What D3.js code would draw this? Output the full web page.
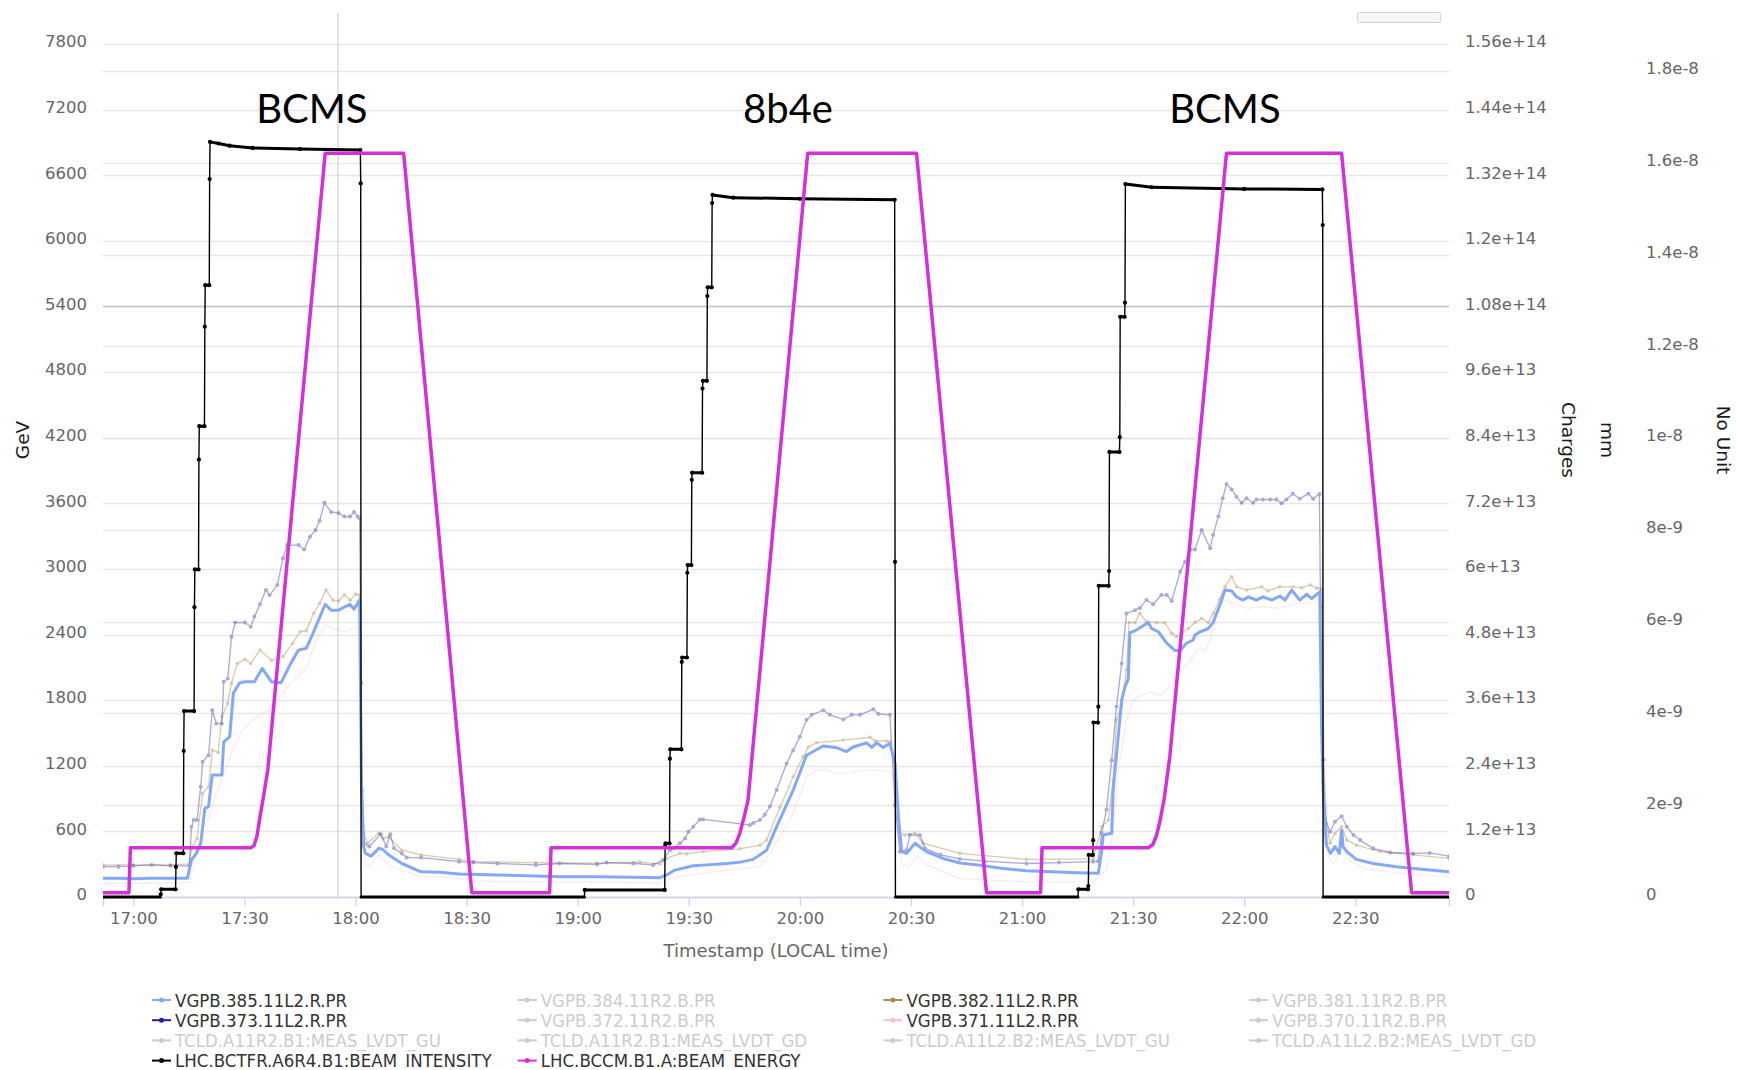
<!DOCTYPE html>
<html>
<head>
<meta charset="utf-8">
<script src="https://cdn.jsdelivr.net/npm/d3@7"></script>
<style>
  html, body { margin: 0; padding: 0; background: #ffffff; }
  svg { display: block; }
</style>
</head>
<body>
<svg id="chart" width="1737" height="1070"></svg>
<script>
// ---------------------------------------------------------------------------
// Data. Times are minutes counted from 17:00 local time.
// ---------------------------------------------------------------------------
const BASE_TIME = new Date(2018, 9, 23, 17, 0, 0);
const INTENSITY_UNIT = 1e13;   // intensity values are stored in 1e13 charges
const PRESSURE_UNIT = 1e-9;    // gauge values are stored in 1e-9

const gevTickLabels = ["0", "600", "1200", "1800", "2400", "3000", "3600", "4200",
  "4800", "5400", "6000", "6600", "7200", "7800"];
const chargesTickLabels = ["0", "1.2e+13", "2.4e+13", "3.6e+13", "4.8e+13", "6e+13",
  "7.2e+13", "8.4e+13", "9.6e+13", "1.08e+14", "1.2e+14", "1.32e+14", "1.44e+14", "1.56e+14"];
const noUnitTickLabels = ["0", "2e-9", "4e-9", "6e-9", "8e-9", "1e-8", "1.2e-8",
  "1.4e-8", "1.6e-8", "1.8e-8"];
const timeTickLabels = ["17:00", "17:30", "18:00", "18:30", "19:00", "19:30", "20:00",
  "20:30", "21:00", "21:30", "22:00", "22:30"];
const timeWindow = [-8.2, 355.3];

// LHC.BCCM.B1.A:BEAM_ENERGY [GeV]
const energyGeV = [
  [-8.2, 40], [-1.2, 40], [-0.8, 450], [31.7, 450], [32.6, 470], [33.4, 560], [34.2, 734],
  [35.2, 930], [36.3, 1161], [51.8, 6800], [73.0, 6800], [91.4, 40],
  [112.4, 40], [112.8, 450], [161.6, 450], [162.7, 490], [163.8, 585], [165.0, 740],
  [166.0, 887], [182.1, 6800], [211.5, 6800], [230.4, 40],
  [245.0, 40], [245.4, 450], [274.1, 450], [275.3, 480], [276.3, 560], [277.3, 704],
  [278.4, 900], [279.9, 1283], [295.2, 6800], [326.3, 6800], [345.2, 40], [355.3, 40]
];

// LHC.BCTFR.A6R4.B1:BEAM_INTENSITY [1e13 charges]
const intensityE13 = [
  [-8.2, 0], [7.3, 0], [7.4, 0.05], [7.5, 0.14], [11.4, 0.14], [11.5, 0.55], [11.6, 0.80],
  [13.5, 0.80], [13.6, 2.67], [13.7, 3.40], [16.4, 3.40], [16.5, 5.30], [16.6, 5.99],
  [17.6, 5.99], [17.7, 8.0], [17.8, 8.61], [19.2, 8.61], [19.3, 10.43], [19.4, 11.19],
  [20.5, 11.19], [20.6, 13.13], [20.7, 13.81], [23.0, 13.78], [26.0, 13.74], [32.2, 13.70],
  [45.0, 13.68], [61.3, 13.66], [61.4, 13.05], [61.5, 0],
  [121.8, 0], [121.9, 0.13], [143.5, 0.13], [143.6, 0.93], [143.7, 0.98], [144.8, 0.98],
  [144.9, 2.53], [145.0, 2.70], [148.0, 2.70], [148.1, 4.30], [148.2, 4.38], [149.5, 4.38],
  [149.6, 5.93], [149.7, 6.07], [150.7, 6.07], [150.8, 7.63], [150.9, 7.76], [153.6, 7.76],
  [153.7, 9.30], [153.8, 9.44], [154.9, 9.44], [155.0, 10.99], [155.1, 11.15], [156.2, 11.15],
  [156.3, 12.69], [156.4, 12.84], [162.0, 12.79], [180.0, 12.77], [205.6, 12.75],
  [205.7, 6.13], [205.8, 0],
  [255.1, 0], [255.2, 0.14], [257.8, 0.14], [257.9, 0.20], [258.0, 0.77], [259.1, 0.77],
  [259.2, 1.04], [259.3, 3.19], [260.5, 3.19], [260.6, 3.48], [260.7, 5.69], [263.4, 5.69],
  [263.5, 5.96], [263.6, 8.14], [266.3, 8.14], [266.4, 8.41], [266.5, 10.61], [267.7, 10.61],
  [267.8, 10.87], [267.9, 13.04], [275.0, 12.98], [300.0, 12.95], [321.1, 12.94],
  [321.2, 12.29], [321.3, 0], [355.3, 0]
];

// VGPB.385.11L2.R.PR [1e-9]
const p385 = [
  [-8.2, 0.41], [-4, 0.41], [0, 0.40], [5, 0.41], [10, 0.41], [14.6, 0.41], [15.7, 0.81],
  [17.0, 0.95], [18.2, 1.17], [19.3, 1.93], [20.3, 1.97], [21.3, 2.66], [23.9, 2.66],
  [24.4, 3.38], [26.0, 3.49], [27.0, 4.44], [28.6, 4.66], [30.1, 4.69], [32.7, 4.69],
  [34.8, 4.98], [37.3, 4.69], [39.9, 4.67], [42.5, 5.09], [44.6, 5.38], [46.7, 5.42],
  [48.7, 5.78], [51.8, 6.38], [53.4, 6.25], [55.4, 6.25], [58.5, 6.38], [59.6, 6.27],
  [61.1, 6.47], [61.6, 2.48], [62.2, 1.10], [62.7, 0.95], [64.2, 0.89], [66.3, 1.06],
  [67.3, 1.04], [68.9, 0.92], [72.5, 0.73], [77.7, 0.55], [82.8, 0.54], [88.0, 0.50],
  [98.3, 0.48], [108.7, 0.46], [115.1, 0.44], [125.2, 0.44], [135.0, 0.43], [142.2, 0.42],
  [144.5, 0.50], [146.0, 0.58], [151.2, 0.68], [155.0, 0.70], [160.2, 0.73], [164.0, 0.76],
  [167.4, 0.82], [171.0, 1.02], [173.7, 1.53], [178.2, 2.33], [181.8, 3.09], [186.3, 3.29],
  [190.0, 3.25], [192.6, 3.17], [194.4, 3.27], [198.0, 3.36], [199.4, 3.26], [200.7, 3.36],
  [202.5, 3.26], [204.3, 3.35], [205.7, 2.91], [206.6, 1.75], [207.5, 0.99], [208.8, 0.95],
  [211.1, 1.17], [212.9, 1.06], [214.2, 0.99], [218.7, 0.84], [223.2, 0.74], [227.7, 0.70],
  [235.0, 0.62], [241.2, 0.57], [248.0, 0.55], [254.7, 0.53], [260.6, 0.52], [261.5, 1.00],
  [261.9, 1.35], [264.2, 1.39], [264.6, 2.33], [266.9, 4.29], [267.8, 4.58], [268.7, 4.76],
  [269.1, 5.76], [270.5, 5.80], [272.3, 5.89], [274.1, 5.98], [275.0, 5.85], [276.8, 5.78],
  [279.1, 5.53], [281.3, 5.37], [282.7, 5.37], [284.4, 5.53], [286.2, 5.60], [286.7, 5.71],
  [288.1, 5.78], [290.3, 5.85], [291.6, 5.98], [293.4, 6.36], [294.8, 6.69], [296.6, 6.67],
  [297.9, 6.54], [299.7, 6.47], [301.1, 6.54], [303.3, 6.47], [305.1, 6.54], [307.4, 6.47],
  [309.6, 6.56], [311.0, 6.47], [312.8, 6.69], [315.0, 6.47], [316.9, 6.60], [318.2, 6.50],
  [320.4, 6.65], [320.9, 3.64], [321.3, 2.33], [322.2, 1.13], [323.3, 0.95], [324.5, 1.10],
  [325.7, 0.95], [326.3, 1.46], [326.7, 1.10], [327.7, 0.99], [330.3, 0.82], [334.8, 0.73],
  [341.1, 0.66], [345.6, 0.62], [350.1, 0.59], [355.3, 0.55]
];

// VGPB.373.11L2.R.PR [1e-9]
const p373 = [
  [-8.2, 0.66], [-4, 0.66], [0, 0.68], [5, 0.70], [10, 0.68], [15.1, 0.68], [15.7, 1.53],
  [16.3, 1.68], [17.2, 1.68], [18.2, 2.40], [18.7, 2.95], [20.3, 3.09], [21.3, 4.07],
  [22.4, 3.78], [23.9, 3.78], [24.4, 4.69], [25.5, 4.76], [26.5, 5.67], [27.5, 5.98],
  [30.1, 5.98], [31.7, 5.89], [32.7, 6.11], [34.2, 6.38], [35.8, 6.69], [36.8, 6.58],
  [38.9, 6.80], [40.4, 7.38], [41.5, 7.67], [44.6, 7.67], [46.1, 7.57], [47.7, 7.85],
  [49.2, 8.00], [50.3, 8.20], [51.6, 8.59], [53.4, 8.39], [55.4, 8.37], [57.0, 8.29],
  [58.5, 8.29], [59.6, 8.39], [60.6, 8.29], [61.1, 8.25], [61.5, 4.66], [61.7, 2.33],
  [62.2, 1.17], [63.7, 1.10], [66.8, 1.37], [68.3, 1.10], [69.4, 1.37], [70.4, 1.06],
  [72.5, 0.95], [73.8, 0.86], [77.7, 0.86], [88.0, 0.77], [91.8, 0.75], [98.3, 0.73],
  [108.7, 0.70], [115.1, 0.73], [125.2, 0.71], [127.8, 0.75], [135.0, 0.73], [140.4, 0.70],
  [143.1, 0.81], [144.9, 1.02], [145.8, 1.06], [147.6, 1.17], [149.0, 1.28], [149.9, 1.42],
  [151.2, 1.53], [153.0, 1.69], [153.9, 1.69], [166.5, 1.57], [167.4, 1.61], [169.2, 1.68],
  [170.5, 1.79], [171.9, 1.97], [173.7, 2.33], [176.4, 2.91], [178.2, 3.20], [180.0, 3.49],
  [181.8, 3.86], [183.2, 3.97], [186.3, 4.07], [188.1, 3.97], [191.7, 3.87], [194.0, 3.97],
  [196.2, 3.97], [199.8, 4.09], [201.2, 3.99], [204.3, 3.97], [205.7, 2.00], [207.0, 0.99],
  [208.8, 1.02], [209.7, 1.35], [212.4, 1.35], [213.8, 1.06], [218.0, 0.92], [223.2, 0.83],
  [230.0, 0.78], [241.2, 0.73], [250.0, 0.75], [259.2, 0.77], [260.5, 0.78], [261.5, 1.39],
  [262.8, 1.90], [264.2, 2.98], [265.5, 4.15], [266.9, 5.09], [268.2, 6.18], [270.5, 6.25],
  [271.8, 6.30], [273.6, 6.47], [275.4, 6.38], [277.6, 6.58], [279.1, 6.58], [280.4, 6.45],
  [282.7, 7.09], [284.0, 7.30], [285.4, 7.57], [286.7, 7.57], [288.5, 8.00], [290.8, 7.60],
  [291.6, 7.89], [293.0, 8.29], [294.2, 8.69], [295.2, 9.00], [296.6, 8.88], [297.9, 8.72],
  [299.3, 8.59], [300.6, 8.69], [302.4, 8.59], [303.3, 8.66], [305.0, 8.66], [307.0, 8.66],
  [308.7, 8.66], [310.1, 8.58], [311.4, 8.66], [313.1, 8.79], [315.0, 8.68], [317.3, 8.79],
  [318.6, 8.68], [320.3, 8.78], [320.6, 6.32], [321.2, 2.98], [321.8, 1.71], [323.2, 1.42],
  [324.5, 1.64], [326.3, 1.76], [327.7, 1.53], [329.5, 1.35], [331.3, 1.24], [334.8, 1.06],
  [339.4, 0.97], [345.6, 0.95], [350.1, 0.96], [355.3, 0.89]
];

// VGPB.382.11L2.R.PR [1e-9]
const p382 = [
  [-8.2, 0.70], [0, 0.70], [10, 0.70], [15.1, 0.72], [15.7, 1.06], [17.2, 1.28], [18.7, 2.26],
  [20.3, 2.40], [21.3, 3.20], [22.9, 3.15], [23.9, 3.93], [25.5, 4.22], [26.5, 4.66],
  [28.1, 5.09], [30.1, 5.18], [31.7, 5.09], [34.2, 5.38], [37.3, 5.16], [40.4, 5.24],
  [43.0, 5.53], [45.1, 5.78], [46.7, 5.80], [48.7, 6.18], [50.3, 6.40], [52.0, 6.69],
  [53.9, 6.47], [55.4, 6.45], [57.0, 6.58], [58.5, 6.47], [60.1, 6.60], [61.1, 6.58],
  [61.6, 3.00], [62.2, 1.40], [63.2, 1.17], [66.3, 1.39], [67.5, 1.28], [68.9, 1.31],
  [72.5, 1.02], [77.7, 0.92], [88.0, 0.82], [91.8, 0.77], [108.7, 0.75], [125.2, 0.74],
  [136.8, 0.76], [142.2, 0.72], [144.0, 0.84], [147.6, 0.95], [149.4, 0.94], [153.9, 0.99],
  [163.8, 1.05], [169.2, 1.13], [171.0, 1.24], [174.6, 1.95], [178.2, 2.62], [180.9, 3.06],
  [182.3, 3.27], [184.5, 3.36], [191.7, 3.42], [198.9, 3.48], [200.3, 3.40], [203.4, 3.40],
  [204.3, 3.38], [205.7, 2.90], [207.0, 1.39], [208.3, 1.35], [211.1, 1.39], [213.3, 1.17],
  [223.2, 0.95], [241.2, 0.82], [259.2, 0.83], [261.5, 1.53], [263.3, 1.68], [264.6, 2.55],
  [265.5, 3.86], [266.9, 4.15], [268.2, 4.95], [268.9, 5.98], [270.5, 5.98], [271.8, 6.18],
  [273.6, 6.00], [276.3, 5.98], [278.5, 5.98], [280.4, 5.75], [281.7, 5.67], [283.1, 5.75],
  [284.9, 5.85], [286.7, 5.98], [288.5, 6.07], [290.3, 5.98], [291.6, 6.18], [293.4, 6.49],
  [294.8, 6.76], [296.6, 6.98], [297.9, 6.76], [300.6, 6.69], [304.7, 6.76], [306.4, 6.67],
  [309.6, 6.76], [313.2, 6.76], [315.5, 6.74], [317.8, 6.80], [319.6, 6.73], [320.9, 6.71],
  [321.5, 3.00], [322.2, 1.61], [323.2, 1.17], [324.5, 1.39], [326.3, 1.53], [327.7, 1.24],
  [330.3, 1.13], [336.6, 0.99], [345.6, 0.92], [355.3, 0.84]
];

// VGPB.371.11L2.R.PR [1e-9]
const p371 = [
  [-8.2, 0.30], [10, 0.30], [15.1, 0.32], [15.7, 0.52], [18.7, 1.50], [20.3, 1.70],
  [22.1, 2.20], [24.0, 2.60], [26.0, 3.02], [29.1, 3.60], [32.2, 3.86], [36.3, 4.07],
  [38.4, 4.22], [42.5, 4.66], [46.7, 4.98], [48.7, 5.45], [51.8, 5.96], [54.0, 5.85],
  [57.0, 5.78], [61.1, 5.89], [61.6, 2.00], [62.2, 0.88], [63.2, 0.63], [66.3, 0.92],
  [69.4, 0.66], [77.7, 0.44], [82.8, 0.44], [98.3, 0.33], [115.1, 0.33], [127.8, 0.33],
  [142.2, 0.30], [144.9, 0.41], [160.2, 0.59], [169.2, 0.66], [171.9, 0.95], [178.2, 1.82],
  [181.8, 2.62], [184.5, 2.77], [187.2, 2.77], [189.9, 2.69], [196.2, 2.75], [199.8, 2.77],
  [204.3, 2.73], [205.7, 2.48], [207.5, 0.73], [209.3, 0.63], [211.7, 0.90], [214.2, 0.70],
  [223.2, 0.40], [241.2, 0.33], [259.2, 0.33], [262.8, 0.59], [264.6, 1.39], [266.0, 2.77],
  [268.2, 3.85], [270.0, 4.29], [271.4, 4.36], [274.5, 4.47], [277.2, 4.40], [279.9, 4.58],
  [282.7, 4.87], [285.4, 5.16], [288.1, 5.45], [289.4, 5.35], [290.8, 5.60], [292.6, 6.18],
  [294.4, 6.47], [297.1, 6.40], [300.6, 6.29], [305.1, 6.33], [309.6, 6.29], [314.1, 6.40],
  [318.6, 6.42], [320.4, 6.54], [321.3, 1.97], [322.7, 0.88], [324.1, 0.73], [326.7, 1.17],
  [328.5, 0.79], [332.2, 0.63], [341.1, 0.52], [355.3, 0.44]
];

const fillNames = ["BCMS", "8b4e", "BCMS"];
const fillNameTimes = [48.2, 176.8, 294.8];

const legendNames = [
  "VGPB.385.11L2.R.PR", "VGPB.384.11R2.B.PR", "VGPB.382.11L2.R.PR", "VGPB.381.11R2.B.PR",
  "VGPB.373.11L2.R.PR", "VGPB.372.11R2.B.PR", "VGPB.371.11L2.R.PR", "VGPB.370.11R2.B.PR",
  "TCLD.A11R2.B1:MEAS_LVDT_GU", "TCLD.A11R2.B1:MEAS_LVDT_GD",
  "TCLD.A11L2.B2:MEAS_LVDT_GU", "TCLD.A11L2.B2:MEAS_LVDT_GD",
  "LHC.BCTFR.A6R4.B1:BEAM_INTENSITY", "LHC.BCCM.B1.A:BEAM_ENERGY"
];
const legendVisible = [true, false, true, false, true, false, true, false,
  false, false, false, false, true, true];

// hover crosshair position (time in minutes, energy level)
const crosshairTime = 55.25;
const crosshairGeV = 5400;

// ---------------------------------------------------------------------------
// Styles
// ---------------------------------------------------------------------------
const seriesColor = {
  "VGPB.385.11L2.R.PR": "#83a9f6",
  "VGPB.373.11L2.R.PR": "#1f1f9c",
  "VGPB.382.11L2.R.PR": "#ad8a50",
  "VGPB.371.11L2.R.PR": "#f6c0cc",
  "LHC.BCTFR.A6R4.B1:BEAM_INTENSITY": "#000000",
  "LHC.BCCM.B1.A:BEAM_ENERGY": "#d42fd8"
};
const hiddenColor = "#cccccc";
const tickFont = "'DejaVu Sans', Verdana, sans-serif";

// ---------------------------------------------------------------------------
// Layout and scales
// ---------------------------------------------------------------------------
const plot = { left: 103, right: 1449, top: 13, bottom: 897 };
const svg = d3.select("#chart");

const toDate = m => new Date(BASE_TIME.getTime() + m * 60000);
const x = d3.scaleTime()
  .domain(timeWindow.map(toDate))
  .range([plot.left, plot.right]);

const gevTicks = gevTickLabels.map(Number);
const chargesTicks = chargesTickLabels.map(Number);
const noUnitTicks = noUnitTickLabels.map(Number);

const yGeV = d3.scaleLinear().domain([0, d3.max(gevTicks)]).range([plot.bottom, 44]);
const yCharges = d3.scaleLinear().domain([0, d3.max(chargesTicks)]).range([plot.bottom, 44]);
const yNoUnit = d3.scaleLinear().domain([0, d3.max(noUnitTicks)]).range([plot.bottom, 71]);

// ---------------------------------------------------------------------------
// Grid
// ---------------------------------------------------------------------------
const grid = svg.append("g");
grid.selectAll("line.nu").data(noUnitTicks).join("line")
  .attr("x1", plot.left).attr("x2", plot.right)
  .attr("y1", d => Math.round(yNoUnit(d)) + 0.5).attr("y2", d => Math.round(yNoUnit(d)) + 0.5)
  .attr("stroke", "#e8e8e8").attr("stroke-width", 1.3);
grid.selectAll("line.gev").data(gevTicks).join("line")
  .attr("x1", plot.left).attr("x2", plot.right)
  .attr("y1", d => Math.round(yGeV(d)) + 0.5).attr("y2", d => Math.round(yGeV(d)) + 0.5)
  .attr("stroke", "#e6e6e6").attr("stroke-width", 1.3);

// crosshair
grid.append("line")
  .attr("x1", x(toDate(crosshairTime))).attr("x2", x(toDate(crosshairTime)))
  .attr("y1", plot.top).attr("y2", plot.bottom)
  .attr("stroke", "#d8d8d8").attr("stroke-width", 1.5);
grid.append("line")
  .attr("x1", plot.left).attr("x2", plot.right)
  .attr("y1", Math.round(yGeV(crosshairGeV)) + 0.5).attr("y2", Math.round(yGeV(crosshairGeV)) + 0.5)
  .attr("stroke", "#c4c4c4").attr("stroke-width", 1.5);

// small button box at the top right of the plot
svg.append("rect")
  .attr("x", 1357.5).attr("y", 12.5).attr("width", 83).attr("height", 10).attr("rx", 2)
  .attr("fill", "#f7f7f7").attr("stroke", "#cfcfcf").attr("stroke-width", 1);

// ---------------------------------------------------------------------------
// Axes
// ---------------------------------------------------------------------------
function styleAxis(g) {
  g.select(".domain").remove();
  g.selectAll(".tick line").remove();
  g.selectAll(".tick text")
    .attr("fill", "#666666")
    .style("font-family", tickFont)
    .style("font-size", "16.5px");
}

svg.append("g")
  .attr("transform", `translate(${plot.left},-2.5)`)
  .call(d3.axisLeft(yGeV).tickValues(gevTicks).tickFormat((d, i) => gevTickLabels[i])
    .tickSize(0).tickPadding(16))
  .call(styleAxis);

svg.append("g")
  .attr("transform", `translate(${plot.right},-2.5)`)
  .call(d3.axisRight(yCharges).tickValues(chargesTicks).tickFormat((d, i) => chargesTickLabels[i])
    .tickSize(0).tickPadding(16))
  .call(styleAxis);

svg.append("g")
  .attr("transform", `translate(1630,-2.5)`)
  .call(d3.axisRight(yNoUnit).tickValues(noUnitTicks).tickFormat((d, i) => noUnitTickLabels[i])
    .tickSize(0).tickPadding(16))
  .call(styleAxis);

const timeTicks = timeTickLabels.map(s => {
  const [h, m] = s.split(":").map(Number);
  return toDate((h - 17) * 60 + m);
});
const xAxis = svg.append("g")
  .attr("transform", `translate(0,${plot.bottom})`)
  .call(d3.axisBottom(x).tickValues(timeTicks).tickFormat((d, i) => timeTickLabels[i])
    .tickSize(9).tickPadding(6));
xAxis.select(".domain").attr("stroke", "#ccd6eb").attr("stroke-width", 1.5);
xAxis.selectAll(".tick line").attr("stroke", "#ccd6eb").attr("stroke-width", 1.3);
xAxis.selectAll(".tick text")
  .attr("fill", "#666666")
  .style("font-family", tickFont)
  .style("font-size", "16.5px");

// axis titles
const titleFont = { family: tickFont, size: "18.5px" };
svg.append("text").text("GeV")
  .attr("transform", "translate(29,440) rotate(-90)")
  .attr("text-anchor", "middle").attr("fill", "#1a1a1a")
  .style("font-family", titleFont.family).style("font-size", titleFont.size);
svg.append("text").text("Charges")
  .attr("transform", "translate(1562,440) rotate(90)")
  .attr("text-anchor", "middle").attr("fill", "#1a1a1a")
  .style("font-family", titleFont.family).style("font-size", titleFont.size);
svg.append("text").text("mm")
  .attr("transform", "translate(1601,440) rotate(90)")
  .attr("text-anchor", "middle").attr("fill", "#1a1a1a")
  .style("font-family", titleFont.family).style("font-size", titleFont.size);
svg.append("text").text("No Unit")
  .attr("transform", "translate(1717,440) rotate(90)")
  .attr("text-anchor", "middle").attr("fill", "#1a1a1a")
  .style("font-family", titleFont.family).style("font-size", titleFont.size);
svg.append("text").text("Timestamp (LOCAL time)")
  .attr("x", 776).attr("y", 957)
  .attr("text-anchor", "middle").attr("fill", "#666666")
  .style("font-family", tickFont).style("font-size", "18px");

// ---------------------------------------------------------------------------
// Series
// ---------------------------------------------------------------------------
svg.append("defs").append("clipPath").attr("id", "plot-clip")
  .append("rect")
  .attr("x", plot.left).attr("y", plot.top)
  .attr("width", plot.right - plot.left).attr("height", plot.bottom - plot.top + 3);

const series = svg.append("g").attr("clip-path", "url(#plot-clip)");

function drawGauge(data, name, opts) {
  const line = d3.line()
    .x(d => x(toDate(d[0])))
    .y(d => yNoUnit(d[1] * PRESSURE_UNIT));
  const g = series.append("g").attr("opacity", opts.opacity);
  g.append("path").datum(data)
    .attr("d", line)
    .attr("fill", "none")
    .attr("stroke", seriesColor[name])
    .attr("stroke-width", opts.width)
    .attr("stroke-linejoin", "round");
  if (opts.marker) {
    g.selectAll("circle").data(data).join("circle")
      .attr("cx", d => x(toDate(d[0])))
      .attr("cy", d => yNoUnit(d[1] * PRESSURE_UNIT))
      .attr("r", opts.marker)
      .attr("fill", seriesColor[name]);
  }
}

drawGauge(p371, "VGPB.371.11L2.R.PR", { opacity: 0.35, width: 1.3, marker: 0 });
drawGauge(p382, "VGPB.382.11L2.R.PR", { opacity: 0.45, width: 1.3, marker: 1.8 });
drawGauge(p373, "VGPB.373.11L2.R.PR", { opacity: 0.38, width: 1.3, marker: 2.0 });
drawGauge(p385, "VGPB.385.11L2.R.PR", { opacity: 1, width: 3, marker: 0 });

// beam intensity: thin connecting line, heavier where the level is held
const ix = d => x(toDate(d[0]));
const iy = d => yCharges(d[1] * INTENSITY_UNIT);
const intensityColor = seriesColor["LHC.BCTFR.A6R4.B1:BEAM_INTENSITY"];
series.append("path").datum(intensityE13)
  .attr("d", d3.line().x(ix).y(iy))
  .attr("fill", "none").attr("stroke", intensityColor).attr("stroke-width", 1.4);
const heldSegments = d3.pairs(intensityE13).filter(([a, b]) => b[0] - a[0] > 0.25);
series.selectAll("line.held").data(heldSegments).join("line")
  .attr("x1", d => ix(d[0])).attr("y1", d => iy(d[0]))
  .attr("x2", d => ix(d[1])).attr("y2", d => iy(d[1]))
  .attr("stroke", intensityColor).attr("stroke-width", 3).attr("stroke-linecap", "round");
series.selectAll("circle.int").data(intensityE13.filter(d => d[1] > 0)).join("circle")
  .attr("cx", ix).attr("cy", iy).attr("r", 2.1).attr("fill", intensityColor);

// beam energy
series.append("path").datum(energyGeV)
  .attr("d", d3.line().x(d => x(toDate(d[0]))).y(d => yGeV(d[1])))
  .attr("fill", "none")
  .attr("stroke", seriesColor["LHC.BCCM.B1.A:BEAM_ENERGY"])
  .attr("stroke-width", 3.5)
  .attr("stroke-linejoin", "round");

// filling scheme names
svg.selectAll("text.fill").data(fillNames).join("text")
  .attr("x", (d, i) => x(toDate(fillNameTimes[i])))
  .attr("y", 123)
  .attr("text-anchor", "middle")
  .attr("fill", "#000000")
  .style("font-family", "Lato, 'Open Sans', sans-serif")
  .style("font-size", "40px")
  .text(d => d);

// ---------------------------------------------------------------------------
// Legend
// ---------------------------------------------------------------------------
const legendCols = 4;
const legend = svg.append("g");
const items = legend.selectAll("g").data(legendNames).join("g")
  .attr("transform", (d, i) =>
    `translate(${175 + (i % legendCols) * 365.7},${1000 + Math.floor(i / legendCols) * 20.2})`);
items.append("line")
  .attr("x1", -23).attr("x2", -4).attr("y1", 0).attr("y2", 0)
  .attr("stroke", (d, i) => legendVisible[i] ? seriesColor[d] : hiddenColor)
  .attr("stroke-width", 2);
items.append("circle")
  .attr("cx", -13.5).attr("cy", 0).attr("r", 2.5)
  .attr("fill", (d, i) => legendVisible[i] ? seriesColor[d] : hiddenColor);
items.append("text")
  .attr("x", 0).attr("y", 0).attr("dy", "0.36em")
  .attr("fill", (d, i) => legendVisible[i] ? "#333333" : hiddenColor)
  .style("font-family", "'DejaVu Sans Condensed', 'DejaVu Sans', sans-serif")
  .style("font-stretch", "condensed")
  .style("font-size", "18.5px")
  .text(d => d);
</script>
</body>
</html>
